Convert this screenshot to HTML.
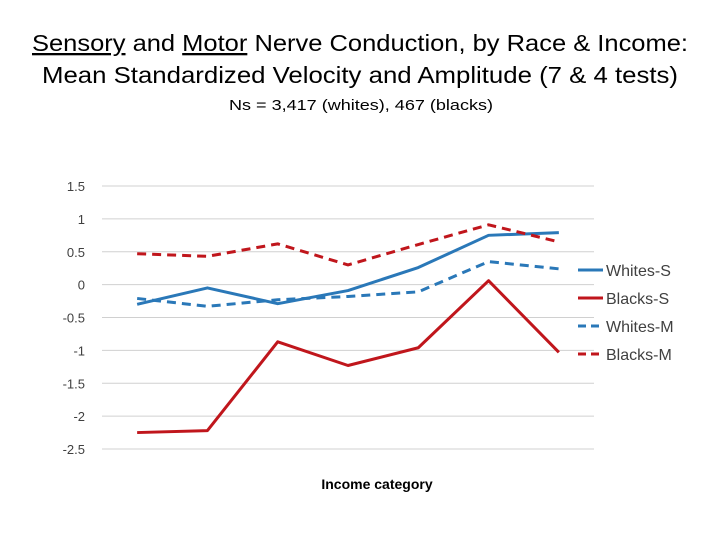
<!DOCTYPE html>
<html><head><meta charset="utf-8"><style>
body{margin:0;background:#fff;}
svg{display:block;font-family:"Liberation Sans",sans-serif;}
</style></head><body>
<svg id="c" width="720" height="540" viewBox="0 0 720 540">
<text x="360" y="51" font-size="23" text-anchor="middle" fill="#000" textLength="656" lengthAdjust="spacingAndGlyphs"><tspan text-decoration="underline">Sensory</tspan> and <tspan text-decoration="underline">Motor</tspan> Nerve Conduction, by Race &amp; Income:</text>
<text x="360" y="83" font-size="23" text-anchor="middle" fill="#000" textLength="636" lengthAdjust="spacingAndGlyphs">Mean Standardized Velocity and Amplitude (7 &amp; 4 tests)</text>
<text x="361" y="110" font-size="15" text-anchor="middle" fill="#000" textLength="264" lengthAdjust="spacingAndGlyphs">Ns = 3,417 (whites), 467 (blacks)</text>
<g id="grid"></g><g id="series"></g><g id="legend"></g>
<text x="377" y="489" font-size="14" font-weight="bold" text-anchor="middle">Income category</text>
</svg>
<script>
const categories=[1,2,3,4,5,6,7];
const yTicks=[1.5,1,0.5,0,-0.5,-1,-1.5,-2,-2.5];
const yTickLabels=["1.5","1","0.5","0","-0.5","-1","-1.5","-2","-2.5"];
const whitesS=[-0.3,-0.05,-0.29,-0.09,0.26,0.75,0.79];
const blacksS=[-2.25,-2.22,-0.87,-1.23,-0.96,0.06,-1.03];
const whitesM=[-0.21,-0.33,-0.23,-0.18,-0.11,0.35,0.24];
const blacksM=[0.47,0.43,0.62,0.3,0.61,0.91,0.65];
const seriesNames=["Whites-S","Blacks-S","Whites-M","Blacks-M"];
const NS="http://www.w3.org/2000/svg";
const X0=102,X1=594,Y0=186,Y1=449,ymax=1.5,ymin=-2.5;
const yS=v=>Y0+(ymax-v)/(ymax-ymin)*(Y1-Y0);
const xS=i=>X0+(X1-X0)/categories.length*(i+0.5);
function mk(t,a,p){const e=document.createElementNS(NS,t);for(const k in a)e.setAttribute(k,a[k]);p.appendChild(e);return e;}
const g=document.getElementById('grid');
yTicks.forEach((v,i)=>{
 const l=mk('line',{x1:X0,x2:X1,y1:yS(v),y2:yS(v),stroke:'#d0d0d0','stroke-width':1},g);
 
 
 const t=mk('text',{x:85,y:yS(v)+5,'font-size':13,'text-anchor':'end',fill:'#404040'},g);
 t.textContent=yTickLabels[i];
 
 
});
const sg=document.getElementById('series'),lg=document.getElementById('legend');
const data=[whitesS,blacksS,whitesM,blacksM];
const cols=['#2a78b8','#c0161c','#2a78b8','#c0161c'];
const dash=[null,null,'9,6','9,6'];
data.forEach((d,s)=>{
 const pts=d.map((v,i)=>xS(i)+','+yS(v)).join(' ');
 const a={points:pts,fill:'none',stroke:cols[s],'stroke-width':3,'stroke-linejoin':'round'};
 if(dash[s])a['stroke-dasharray']=dash[s];
 const p=mk('polyline',a,sg);
 
 
 const y=270+s*28;
 const la={x1:578,x2:603,y1:y,y2:y,stroke:cols[s],'stroke-width':3};
 if(dash[s])la['stroke-dasharray']='8,5';
 const ll=mk('line',la,lg);
 
 
 const t=mk('text',{x:606,y:y+6,'font-size':16,fill:'#404040'},lg);
 t.textContent=seriesNames[s];
 
 
});
</script>
</body></html>
